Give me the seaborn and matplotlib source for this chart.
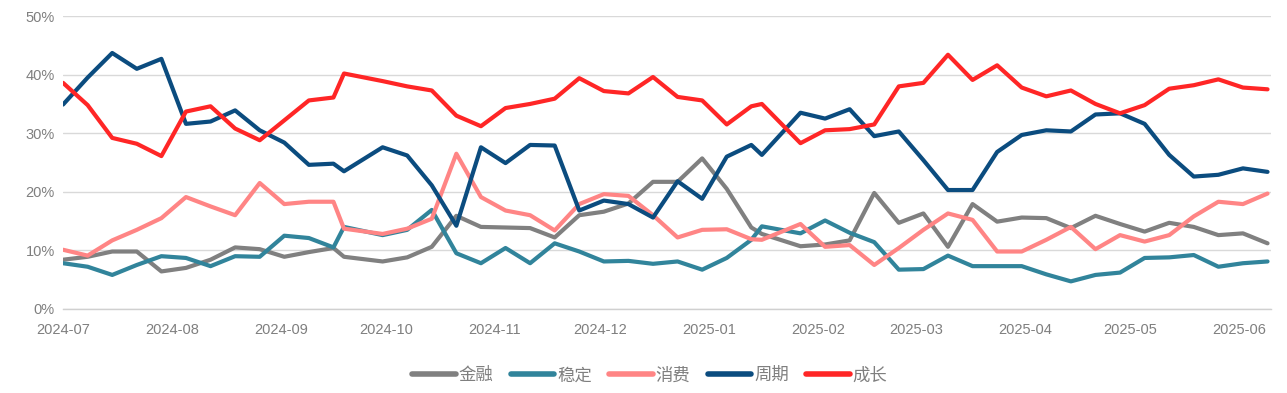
import pandas as pd
import numpy as np
import matplotlib
matplotlib.use('Agg')
import matplotlib.pyplot as plt
import matplotlib.dates as mdates
from matplotlib.ticker import FuncFormatter
import seaborn as sns

# weekly observation dates (two extra mid-week points in Sep and Jan)
dates = ['2024-07-01', '2024-07-08', '2024-07-15', '2024-07-22', '2024-07-29',
         '2024-08-05', '2024-08-12', '2024-08-19', '2024-08-26', '2024-09-02',
         '2024-09-09', '2024-09-16', '2024-09-19', '2024-09-30', '2024-10-07',
         '2024-10-14', '2024-10-21', '2024-10-28', '2024-11-04', '2024-11-11',
         '2024-11-18', '2024-11-25', '2024-12-02', '2024-12-09', '2024-12-16',
         '2024-12-23', '2024-12-30', '2025-01-06', '2025-01-13', '2025-01-16',
         '2025-01-27', '2025-02-03', '2025-02-10', '2025-02-17', '2025-02-24',
         '2025-03-03', '2025-03-10', '2025-03-17', '2025-03-24', '2025-03-31',
         '2025-04-07', '2025-04-14', '2025-04-21', '2025-04-28', '2025-05-05',
         '2025-05-12', '2025-05-19', '2025-05-26', '2025-06-02', '2025-06-09']

finance = [8.4, 8.9, 9.8, 9.8, 6.4, 7.0, 8.4, 10.5, 10.2, 8.9,
           9.7, 10.4, 8.9, 8.1, 8.8, 10.6, 15.9, 14.0, 13.9, 13.8,
           12.2, 16.0, 16.6, 18.0, 21.7, 21.7, 25.7, 20.5, 13.9, 12.8,
           10.7, 11.0, 11.7, 19.8, 14.7, 16.3, 10.6, 17.9, 14.9, 15.6,
           15.5, 13.8, 15.9, 14.5, 13.2, 14.7, 14.0, 12.6, 12.9, 11.2]

stable = [7.8, 7.2, 5.8, 7.5, 9.0, 8.7, 7.3, 9.0, 8.9, 12.5,
          12.1, 10.5, 14.0, 12.6, 13.5, 16.9, 9.5, 7.8, 10.4, 7.8,
          11.2, 9.8, 8.1, 8.2, 7.7, 8.1, 6.7, 8.7, 11.8, 14.1,
          12.9, 15.1, 13.0, 11.4, 6.7, 6.8, 9.1, 7.3, 7.3, 7.3,
          5.9, 4.7, 5.8, 6.2, 8.7, 8.8, 9.2, 7.2, 7.8, 8.1]

consumer = [10.1, 9.1, 11.7, 13.5, 15.5, 19.1, 17.5, 16.0, 21.5, 17.9,
            18.3, 18.3, 13.7, 12.8, 13.7, 15.4, 26.5, 19.1, 16.8, 16.0,
            13.4, 17.9, 19.6, 19.3, 16.0, 12.2, 13.5, 13.6, 11.9, 11.8,
            14.5, 10.6, 10.9, 7.5, 10.4, 13.5, 16.3, 15.2, 9.8, 9.8,
            11.8, 14.0, 10.2, 12.6, 11.5, 12.6, 15.8, 18.3, 17.9, 19.7]

cyclical = [34.9, 39.5, 43.7, 41.0, 42.7, 31.6, 32.0, 33.9, 30.5, 28.4,
            24.6, 24.8, 23.5, 27.6, 26.2, 21.1, 14.2, 27.6, 24.9, 28.0,
            27.9, 16.8, 18.5, 17.9, 15.6, 21.8, 18.8, 26.0, 28.0, 26.3,
            33.5, 32.5, 34.1, 29.5, 30.3, 25.4, 20.3, 20.3, 26.8, 29.7,
            30.5, 30.3, 33.2, 33.4, 31.6, 26.3, 22.6, 22.9, 24.0, 23.4]

growth = [38.6, 34.8, 29.2, 28.2, 26.1, 33.7, 34.6, 30.8, 28.8, 32.2,
          35.6, 36.1, 40.2, 38.9, 38.0, 37.3, 33.0, 31.2, 34.3, 35.0,
          35.9, 39.4, 37.2, 36.8, 39.6, 36.2, 35.6, 31.5, 34.6, 35.0,
          28.3, 30.5, 30.7, 31.5, 38.0, 38.6, 43.4, 39.1, 41.6, 37.8,
          36.3, 37.3, 35.0, 33.4, 34.8, 37.6, 38.2, 39.2, 37.8, 37.5]

series_names = ['金融', '稳定', '消费', '周期', '成长']
colors = ['#808080', '#31849b', '#ff8585', '#0b4c7f', '#ff2626']

wide = pd.DataFrame({'date': pd.to_datetime(dates), '金融': finance, '稳定': stable,
                     '消费': consumer, '周期': cyclical, '成长': growth})
df = wide.melt(id_vars='date', var_name='板块', value_name='占比')

sns.set_style('white')
plt.rcParams['font.family'] = ['Liberation Sans', 'Noto Sans CJK SC', 'DejaVu Sans']

fig, ax = plt.subplots(figsize=(12.87, 3.93), dpi=100)
fig.subplots_adjust(left=0.049, right=0.9876, top=0.959, bottom=0.214)

sns.lineplot(data=df, x='date', y='占比', hue='板块', hue_order=series_names,
             palette=colors, linewidth=3.0, ax=ax, legend=True)

ax.set_ylim(0, 50)
ax.set_yticks(np.arange(0, 51, 10))
ax.yaxis.set_major_formatter(FuncFormatter(lambda v, p: f'{v:.0f}%'))
ax.set_xlim(pd.Timestamp('2024-07-01'), pd.Timestamp('2025-06-10'))
ax.xaxis.set_major_locator(mdates.MonthLocator())
ax.xaxis.set_major_formatter(mdates.DateFormatter('%Y-%m'))

ax.grid(axis='y', color='#d9d9d9', linewidth=1.0)
ax.set_axisbelow(True)
for side in ['left', 'right', 'top']:
    ax.spines[side].set_visible(False)
ax.spines['bottom'].set_color('#d0d0d0')
ax.spines['bottom'].set_linewidth(1.0)
ax.tick_params(axis='x', colors='#d0d0d0', length=5, width=1, labelcolor='#7f7f7f',
               labelsize=10.5, pad=5)
ax.tick_params(axis='y', length=0, labelcolor='#7f7f7f', labelsize=10.5, pad=6)
ax.set_xlabel('')
ax.set_ylabel('')

handles, labels = ax.get_legend_handles_labels()
leg = ax.legend(handles, labels, loc='center', bbox_to_anchor=(0.505, 0.045),
                bbox_transform=fig.transFigure, ncol=5, frameon=False,
                handlelength=2.5, handletextpad=0.17, columnspacing=1.0,
                labelcolor='#7f7f7f',
                prop={'family': ['Noto Sans CJK SC', 'DejaVu Sans'], 'size': 12.5})
for line in leg.get_lines():
    line.set_linewidth(4.0)
    line.set_solid_capstyle('round')

plt.savefig('out.png', dpi=100)
plt.close()
